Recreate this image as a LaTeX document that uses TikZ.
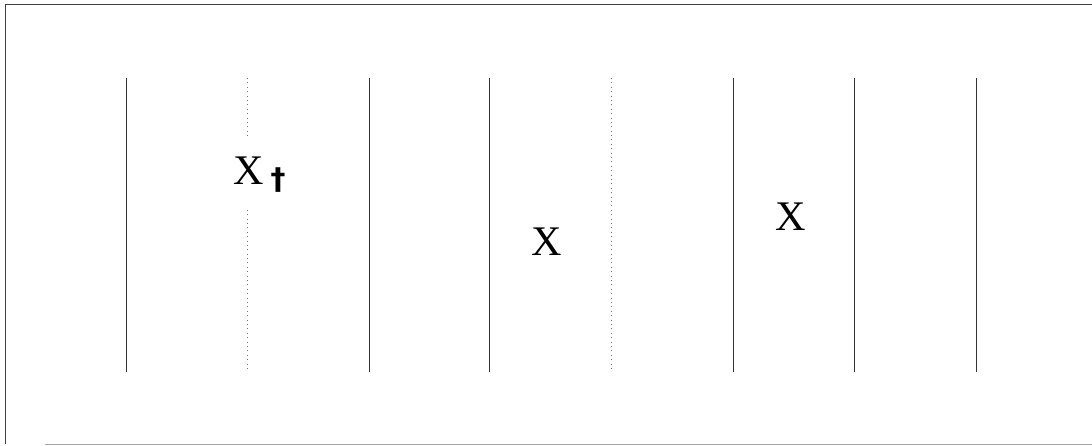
\documentclass[tikz,border=0pt]{standalone}
\usepackage{fontspec}
\setmainfont{Liberation Serif}
\newfontfamily\dagfont{DejaVu Sans}
\begin{document}
\begin{tikzpicture}[x=0.02cm, y=0.02cm,
  frame/.style={line width=0.5pt, black!75},
  solidline/.style={line width=0.5pt, black!80},
  dotline/.style={line width=0.5pt, black!55, dotted},
  mark label/.style={font=\fontsize{24}{28}\selectfont, inner sep=0pt}]
\useasboundingbox (0,0) rectangle (1092,446);
% frame, open on the right
\draw[frame] (1092,442) -- (5,442) -- (5,2);
\draw[frame, black!35] (45,2) -- (1092,2);
% vertical lines
\foreach \xp in {126,369,489,733,854,976}
  \draw[solidline] (\xp,368) -- (\xp,74);
\foreach \xp in {247,611}
  \draw[dotline] (\xp,368) -- (\xp,74);
% labels
\node[mark label, fill=white, inner ysep=12pt, inner xsep=3pt] (xdag) at (249,275) {X};
\node[font=\dagfont\bfseries\fontsize{17}{20}\selectfont, inner sep=0pt] (dag) at (278,266) {†};
\node[mark label] (xmid) at (547,204) {X};
\node[mark label] (xright) at (791,229) {X};
\end{tikzpicture}
\end{document}
